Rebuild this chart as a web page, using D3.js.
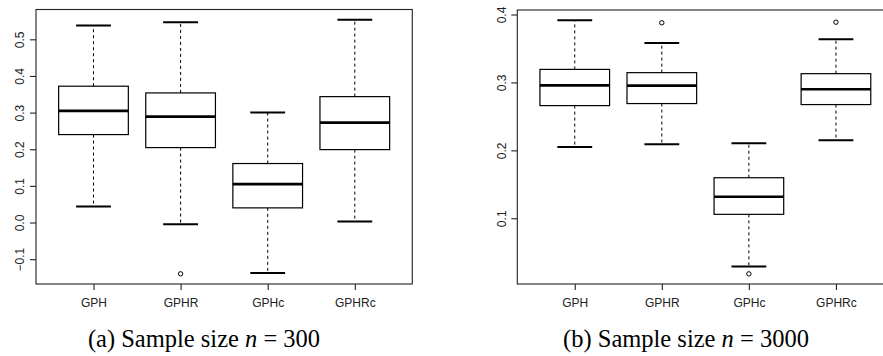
<!DOCTYPE html>
<html>
<head>
<meta charset="utf-8">
<script src="https://cdn.jsdelivr.net/npm/d3@7"></script>
<style>
  body { margin: 0; background: #fff; }
  svg { display: block; }
</style>
</head>
<body>
<svg id="fig" width="883" height="356"></svg>
<script>
// Estimators compared in both panels
const methods = ["GPH", "GPHR", "GPHc", "GPHRc"];

// Sample size n = 300: five-number summaries and outliers
const whiskerLow300  = [0.044, -0.005, -0.138, 0.003];
const quartile1_300  = [0.240, 0.2045, 0.040, 0.199];
const median300      = [0.3046, 0.289, 0.1047, 0.2727];
const quartile3_300  = [0.372, 0.3537, 0.161, 0.3436];
const whiskerHigh300 = [0.538, 0.5465, 0.300, 0.5536];
const outliers300    = [[], [-0.140], [], []];

// Sample size n = 3000
const whiskerLow3000  = [0.2051, 0.2091, 0.0289, 0.2150];
const quartile1_3000  = [0.2659, 0.2689, 0.1058, 0.2674];
const median3000      = [0.2957, 0.2953, 0.1317, 0.2899];
const quartile3_3000  = [0.3192, 0.3144, 0.1597, 0.3129];
const whiskerHigh3000 = [0.3917, 0.3579, 0.2106, 0.3637];
const outliers3000    = [[], [0.3878], [0.0182], [0.3887]];

// Tick labels
const yTicks300  = [-0.1, 0.0, 0.1, 0.2, 0.3, 0.4, 0.5];
const yTicks3000 = [0.1, 0.2, 0.3, 0.4];

// Captions
const captionSizes = ["300", "3000"];
const captionTags  = ["(a)", "(b)"];

const svg = d3.select("#fig");

function buildStats(lo, q1, med, q3, hi, out) {
  return methods.map((m, i) => ({
    name: m, lo: lo[i], q1: q1[i], med: med[i], q3: q3[i], hi: hi[i], out: out[i]
  }));
}

function drawPanel(opts) {
  const { stats, ticks, left, right, top, bottom, fmt } = opts;
  const g = svg.append("g");

  // y domain padded by 4% like base graphics
  const all = stats.flatMap(d => [d.lo, d.hi, ...d.out]);
  const [mn, mx] = d3.extent(all);
  const pad = (mx - mn) * 0.04;
  const y = d3.scaleLinear().domain([mn - pad, mx + pad]).range([bottom, top]);

  // x positions 1..n, axis limits 0.5..n+0.5 padded 4%
  const n = stats.length;
  const xpad = n * 0.04;
  const x = d3.scaleLinear().domain([0.5 - xpad, n + 0.5 + xpad]).range([left, right]);
  const unit = x(1) - x(0);

  // frame
  g.append("rect")
    .attr("x", left).attr("y", top)
    .attr("width", right - left).attr("height", bottom - top)
    .attr("fill", "none").attr("stroke", "#222").attr("stroke-width", 1.1);

  // y axis
  const yAxis = d3.axisLeft(y).tickValues(ticks).tickSize(6).tickPadding(4).tickFormat(fmt);
  const ya = g.append("g").attr("transform", `translate(${left},0)`).call(yAxis);
  ya.select(".domain").remove();
  ya.selectAll(".tick line").attr("stroke", "#222").attr("stroke-width", 1.1);
  ya.selectAll(".tick text")
    .attr("x", null)
    .attr("font-family", "Liberation Sans, Arial, sans-serif")
    .attr("font-size", 12).attr("fill", "#222")
    .attr("text-anchor", "middle")
    .attr("transform", "translate(-12,0) rotate(-90)")
    .attr("dy", "0.35em")
    .attr("y", -4);

  // x axis
  const xAxis = d3.axisBottom(x).tickValues(d3.range(1, n + 1)).tickSize(6).tickPadding(8)
    .tickFormat(i => stats[i - 1].name);
  const xa = g.append("g").attr("transform", `translate(0,${bottom})`).call(xAxis);
  xa.select(".domain").remove();
  xa.selectAll(".tick line").attr("stroke", "#222").attr("stroke-width", 1.1);
  xa.selectAll(".tick text")
    .attr("font-family", "Liberation Sans, Arial, sans-serif")
    .attr("font-size", 12).attr("fill", "#222");

  const boxW = 0.8 * unit;
  const capW = 0.4 * unit;

  const b = g.selectAll(".bx").data(stats).join("g")
    .attr("transform", (d, i) => `translate(${x(i + 1)},0)`);

  // dashed whiskers
  b.append("line").attr("x1", 0).attr("x2", 0)
    .attr("y1", d => y(d.q3)).attr("y2", d => y(d.hi))
    .attr("stroke", "#000").attr("stroke-width", 1).attr("stroke-dasharray", "3,3");
  b.append("line").attr("x1", 0).attr("x2", 0)
    .attr("y1", d => y(d.q1)).attr("y2", d => y(d.lo))
    .attr("stroke", "#000").attr("stroke-width", 1).attr("stroke-dasharray", "3,3");

  // staples
  b.append("line").attr("x1", -capW / 2).attr("x2", capW / 2)
    .attr("y1", d => y(d.hi)).attr("y2", d => y(d.hi))
    .attr("stroke", "#000").attr("stroke-width", 2);
  b.append("line").attr("x1", -capW / 2).attr("x2", capW / 2)
    .attr("y1", d => y(d.lo)).attr("y2", d => y(d.lo))
    .attr("stroke", "#000").attr("stroke-width", 2);

  // box
  b.append("rect")
    .attr("x", -boxW / 2).attr("width", boxW)
    .attr("y", d => y(d.q3)).attr("height", d => y(d.q1) - y(d.q3))
    .attr("fill", "#fff").attr("stroke", "#000").attr("stroke-width", 1.2);

  // median
  b.append("line").attr("x1", -boxW / 2).attr("x2", boxW / 2)
    .attr("y1", d => y(d.med)).attr("y2", d => y(d.med))
    .attr("stroke", "#000").attr("stroke-width", 2.6);

  // outliers
  b.selectAll("circle").data(d => d.out).join("circle")
    .attr("cx", 0).attr("cy", v => y(v)).attr("r", 2.2)
    .attr("fill", "none").attr("stroke", "#000").attr("stroke-width", 1);
}

drawPanel({
  stats: buildStats(whiskerLow300, quartile1_300, median300, quartile3_300, whiskerHigh300, outliers300),
  ticks: yTicks300, left: 36, right: 412.3, top: 9.5, bottom: 284,
  fmt: d3.format(".1f")
});

drawPanel({
  stats: buildStats(whiskerLow3000, quartile1_3000, median3000, quartile3_3000, whiskerHigh3000, outliers3000),
  ticks: yTicks3000, left: 517.3, right: 893.4, top: 10, bottom: 284,
  fmt: d3.format(".1f")
});

// Sub-figure captions
const capX = [204, 686];
captionTags.forEach((tag, i) => {
  const t = svg.append("text")
    .attr("x", capX[i]).attr("y", 347)
    .attr("text-anchor", "middle")
    .attr("font-family", "Liberation Serif, Times New Roman, serif")
    .attr("font-size", 24.5).attr("fill", "#000");
  t.append("tspan").text(tag + " Sample size ");
  t.append("tspan").attr("font-style", "italic").text("n");
  t.append("tspan").text(" = " + captionSizes[i]);
});
</script>
</body>
</html>
